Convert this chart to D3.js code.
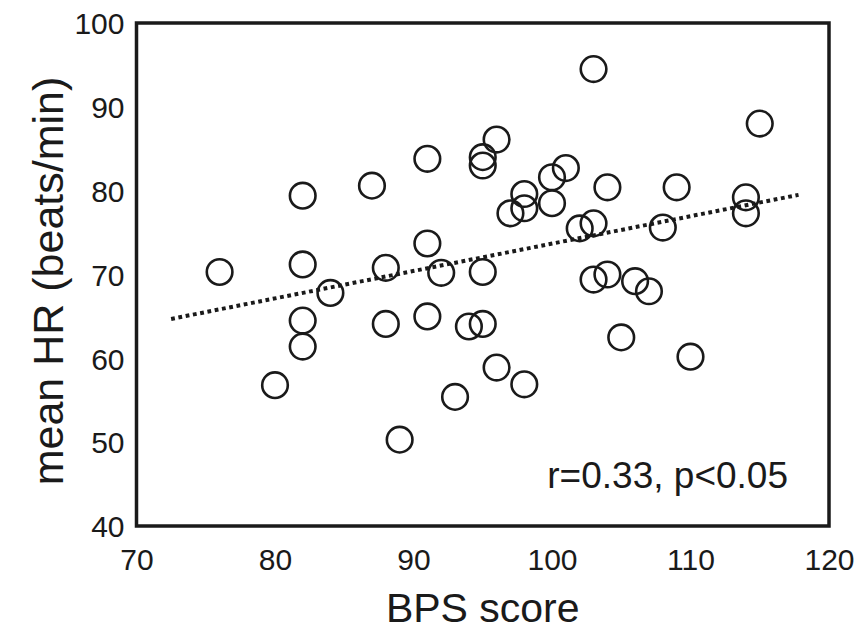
<!DOCTYPE html>
<html>
<head>
<meta charset="utf-8">
<script src="https://cdn.jsdelivr.net/npm/d3@7"></script>
<style>
  html, body { margin: 0; padding: 0; background: #fff; }
  svg { display: block; font-family: "Liberation Sans", Arial, Helvetica, sans-serif; }
</style>
</head>
<body>
<svg id="chart" width="860" height="630"></svg>
<script>
// BPS score vs. mean heart rate, one circle per subject
const bpsScore = [76, 80, 82, 82, 82, 82, 84, 87, 88, 88, 89, 91, 91, 91, 92, 93, 94, 95, 95, 95, 95,
  96, 96, 97, 98, 98, 98, 100, 100, 101, 102, 103, 103, 103, 104, 104, 105, 106, 107, 108, 109, 110,
  114, 114, 115];
const meanHR = [70.3, 56.8, 79.4, 71.2, 64.5, 61.4, 67.8, 80.6, 70.8, 64.1, 50.3, 83.8, 73.7, 65.0,
  70.2, 55.4, 63.8, 84.0, 83.0, 70.3, 64.1, 86.1, 58.9, 77.3, 79.6, 77.9, 56.9, 78.5, 81.6, 82.7,
  75.5, 94.5, 76.1, 69.4, 80.4, 70.0, 62.5, 69.2, 68.0, 75.6, 80.4, 60.2, 79.2, 77.3, 88.0];

// regression line endpoints
const trendX = [72.5, 117.8];
const trendY = [64.7, 79.5];

const xTicks = [70, 80, 90, 100, 110, 120];
const yTicks = [40, 50, 60, 70, 80, 90, 100];
const xTitle = "BPS score";
const yTitle = "mean HR (beats/min)";
const statsLabel = "r=0.33, p<0.05";

const svg = d3.select("#chart");
const x = d3.scaleLinear().domain([70, 120]).range([136.5, 829]);
const y = d3.scaleLinear().domain([40, 100]).range([526, 23]);

// tick labels only (no tick marks, no axis line)
const xAxis = d3.axisBottom(x).tickValues(xTicks).tickSize(0).tickPadding(0).tickFormat(d3.format("d"));
const gx = svg.append("g").attr("transform", `translate(0,${y(40)})`).call(xAxis);
gx.select(".domain").remove();
gx.selectAll("text").attr("font-size", 30).attr("fill", "#1a1a1a")
  .attr("font-family", "Liberation Sans, Arial, sans-serif")
  .attr("dy", null).attr("y", 44);

const yAxis = d3.axisLeft(y).tickValues(yTicks).tickSize(0).tickPadding(0).tickFormat(d3.format("d"));
const gy = svg.append("g").attr("transform", `translate(${x(70)},0)`).call(yAxis);
gy.select(".domain").remove();
gy.selectAll("text").attr("font-size", 30).attr("fill", "#1a1a1a")
  .attr("font-family", "Liberation Sans, Arial, sans-serif")
  .attr("x", -12).attr("dy", "0.36em");

// trend line
svg.append("line")
  .attr("x1", x(trendX[0])).attr("y1", y(trendY[0]))
  .attr("x2", x(trendX[1])).attr("y2", y(trendY[1]))
  .attr("stroke", "#1a1a1a").attr("stroke-width", 4)
  .attr("stroke-dasharray", "3.8,3.6");

// data points
svg.append("g").selectAll("circle")
  .data(bpsScore.map((b, i) => ({ b, h: meanHR[i] })))
  .join("circle")
  .attr("cx", d => x(d.b)).attr("cy", d => y(d.h))
  .attr("r", 12.8)
  .attr("fill", "none").attr("stroke", "#1a1a1a").attr("stroke-width", 2.6);

// plot frame
svg.append("rect")
  .attr("x", x(70)).attr("y", y(100))
  .attr("width", x(120) - x(70)).attr("height", y(40) - y(100))
  .attr("fill", "none").attr("stroke", "#1a1a1a").attr("stroke-width", 3.5);

// correlation label
svg.append("text")
  .attr("x", 788).attr("y", 488)
  .attr("text-anchor", "end").attr("font-size", 37).attr("fill", "#1a1a1a")
  .text(statsLabel);

// axis titles
svg.append("text")
  .attr("x", (x(70) + x(120)) / 2 - 0).attr("y", 622)
  .attr("text-anchor", "middle").attr("font-size", 41).attr("fill", "#1a1a1a")
  .text(xTitle);

svg.append("text")
  .attr("transform", `translate(63,281) rotate(-90)`)
  .attr("text-anchor", "middle").attr("font-size", 43).attr("fill", "#1a1a1a")
  .text(yTitle);
</script>
</body>
</html>
